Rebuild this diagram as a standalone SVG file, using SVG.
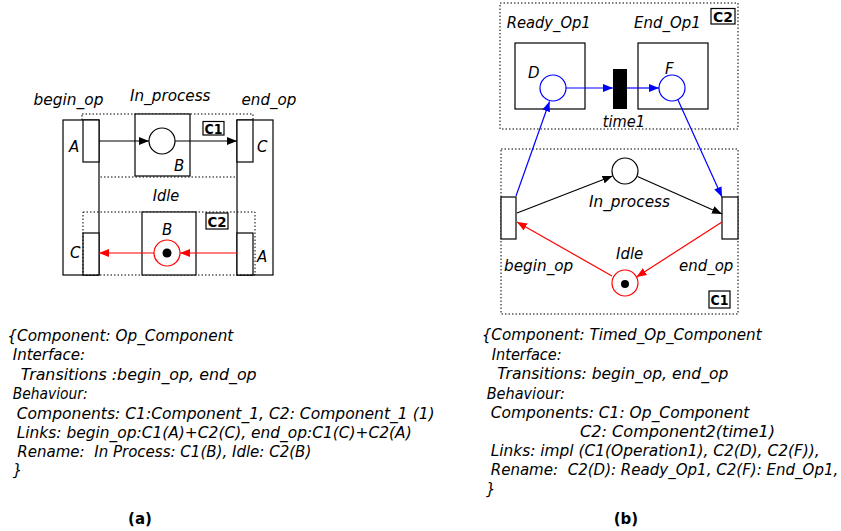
<svg xmlns="http://www.w3.org/2000/svg" width="841" height="531" viewBox="0 0 841 531">
<style>
.s{fill:#fff;stroke:#000;stroke-width:1.2}
.d{fill:none;stroke:#000;stroke-width:1;stroke-dasharray:1.5 2}
.t{font-family:"DejaVu Sans",Verdana,sans-serif;font-style:italic;font-size:15px;fill:#000}
.m{text-anchor:middle}
.b{font-family:"DejaVu Sans",Verdana,sans-serif;font-weight:bold;font-size:14px;fill:#000;text-anchor:middle}
.k{stroke:#000;stroke-width:1.2;fill:none}
.r{stroke:#f00;stroke-width:1.2;fill:none}
.u{stroke:#00f;stroke-width:1.2;fill:none}
.code{font-family:"DejaVu Sans",Verdana,sans-serif;font-style:italic;font-size:15px;fill:#000;white-space:pre}
</style>
<defs>
<marker id="ak" viewBox="0 0 10 8" refX="10" refY="4" markerWidth="10" markerHeight="8" markerUnits="userSpaceOnUse" orient="auto"><path d="M0,0L10,4L0,8z" fill="#000"/></marker>
<marker id="ar" viewBox="0 0 10 8" refX="10" refY="4" markerWidth="10" markerHeight="8" markerUnits="userSpaceOnUse" orient="auto"><path d="M0,0L10,4L0,8z" fill="#f00"/></marker>
<marker id="au" viewBox="0 0 10 8" refX="10" refY="4" markerWidth="10" markerHeight="8" markerUnits="userSpaceOnUse" orient="auto"><path d="M0,0L10,4L0,8z" fill="#00f"/></marker>
</defs>
<rect width="841" height="531" fill="#fff"/>

<!-- (a) -->
<g id="a-C1">
<rect class="d" x="82" y="114" width="171" height="63"/>
</g>
<g id="a-begin_op">
<rect class="s" x="63" y="120" width="36" height="155"/>
<rect class="s" x="83" y="120" width="16" height="42"/>
<rect class="s" x="83" y="233" width="16" height="42"/>
<text class="t" x="33.5" y="105" textLength="70" lengthAdjust="spacingAndGlyphs">begin_op</text>
<text class="t" x="69" y="152">A</text>
<text class="t" x="70" y="258">C</text>
</g>
<g id="a-end_op">
<rect class="s" x="237" y="120" width="36" height="155"/>
<rect class="s" x="237" y="120" width="16" height="42"/>
<rect class="s" x="237" y="233" width="16" height="42"/>
<text class="t" x="241.5" y="105" textLength="55" lengthAdjust="spacingAndGlyphs">end_op</text>
<text class="t" x="257" y="152">C</text>
<text class="t" x="257" y="262">A</text>
</g>
<g id="a-C2">
<rect class="d" x="83" y="212" width="172" height="63"/>
</g>
<g id="a-In_process">
<rect class="s" x="135" y="114" width="55" height="62"/>
<circle class="s" cx="162" cy="141" r="13"/>
<text class="t" x="174" y="171">B</text>
<text class="t" x="130" y="101" textLength="80.5" lengthAdjust="spacingAndGlyphs">In_process</text>
</g>
<g id="a-C1-label">
<rect class="s" x="203" y="121.5" width="21" height="13.5"/>
<text class="b" x="213.5" y="133.5" textLength="18" lengthAdjust="spacingAndGlyphs">C1</text>
</g>
<g id="a-Idle">
<rect class="s" x="142" y="212" width="54" height="63"/>
<circle cx="167" cy="253" r="13" fill="#fff" stroke="#f00" stroke-width="1.2"/>
<circle cx="167" cy="253" r="4.5" fill="#000"/>
<text class="t" x="162" y="235">B</text>
<text class="t" x="152.7" y="201" textLength="26.5" lengthAdjust="spacingAndGlyphs">Idle</text>
</g>
<g id="a-C2-label">
<rect class="s" x="206" y="213" width="22" height="16"/>
<text class="b" x="217" y="226.5" textLength="19" lengthAdjust="spacingAndGlyphs">C2</text>
</g>
<g id="a-connectors">
<line class="k" x1="99" y1="141" x2="149" y2="141" marker-end="url(#ak)"/>
<line class="k" x1="175" y1="141" x2="237" y2="141" marker-end="url(#ak)"/>
<line class="r" x1="154" y1="253" x2="99" y2="253" marker-end="url(#ar)"/>
<line class="r" x1="237" y1="253" x2="180" y2="253" marker-end="url(#ar)"/>
</g>

<!-- (b) -->
<g id="b-C2">
<rect class="d" x="500" y="3" width="238" height="126"/>
<rect class="s" x="711" y="8.5" width="24" height="15.5"/>
<text class="b" x="723" y="21.5" textLength="20" lengthAdjust="spacingAndGlyphs">C2</text>
</g>
<g id="b-Ready_Op1">
<rect class="s" x="515" y="43" width="70" height="66"/>
<circle cx="553" cy="88" r="13" fill="#fff" stroke="#00f" stroke-width="1.2"/>
<text class="t" x="528" y="78">D</text>
<text class="t" x="506.7" y="28" textLength="84" lengthAdjust="spacingAndGlyphs">Ready_Op1</text>
</g>
<g id="b-time1">
<rect x="613" y="69" width="14" height="40" fill="#000"/>
<text class="t" x="602.7" y="126.5" textLength="42.3" lengthAdjust="spacingAndGlyphs">time1</text>
</g>
<g id="b-End_Op1">
<rect class="s" x="638" y="43" width="70" height="66"/>
<circle cx="672" cy="88" r="13" fill="#fff" stroke="#00f" stroke-width="1.2"/>
<text class="t" x="665" y="74">F</text>
<text class="t" x="634" y="28" textLength="66.7" lengthAdjust="spacingAndGlyphs">End_Op1</text>
</g>
<g id="b-C1">
<rect class="d" x="501" y="149" width="237" height="165"/>
<rect class="s" x="709" y="291" width="21" height="17"/>
<text class="b" x="719.5" y="304.5" textLength="18" lengthAdjust="spacingAndGlyphs">C1</text>
</g>
<g id="b-begin_op">
<rect class="s" x="501" y="197" width="15" height="42"/>
<text class="t" x="504" y="271" textLength="69.3" lengthAdjust="spacingAndGlyphs">begin_op</text>
</g>
<g id="b-end_op">
<rect class="s" x="722" y="197" width="16" height="42"/>
<text class="t" x="679" y="271" textLength="54.3" lengthAdjust="spacingAndGlyphs">end_op</text>
</g>
<g id="b-In_process">
<circle class="s" cx="625" cy="171" r="13"/>
<text class="t" x="589" y="207" textLength="81" lengthAdjust="spacingAndGlyphs">In_process</text>
</g>
<g id="b-Idle">
<circle cx="625" cy="283" r="13" fill="#fff" stroke="#f00" stroke-width="1.2"/>
<circle cx="625" cy="284" r="4" fill="#000"/>
<text class="t" x="616" y="259" textLength="27.3" lengthAdjust="spacingAndGlyphs">Idle</text>
</g>
<g id="b-connectors">
<line class="u" x1="566" y1="88" x2="613" y2="88" marker-end="url(#au)"/>
<line class="u" x1="627" y1="88" x2="659" y2="88" marker-end="url(#au)"/>
<line class="u" x1="516" y1="196" x2="549.5" y2="101.5" marker-end="url(#au)"/>
<line class="u" x1="678" y1="100" x2="722" y2="197" marker-end="url(#au)"/>
<line class="k" x1="517" y1="213" x2="612.5" y2="176" marker-end="url(#ak)"/>
<line class="k" x1="637.5" y1="176.5" x2="722" y2="214" marker-end="url(#ak)"/>
<line class="r" x1="722" y1="222" x2="636.5" y2="277" marker-end="url(#ar)"/>
<line class="r" x1="612" y1="276" x2="517" y2="222" marker-end="url(#ar)"/>
</g>

<!-- text blocks -->
<g id="a-spec">
<text class="code" x="7.3" y="341" textLength="226" lengthAdjust="spacingAndGlyphs">{Component: Op_Component</text>
<text class="code" x="12.7" y="360" textLength="72.5" lengthAdjust="spacingAndGlyphs">Interface:</text>
<text class="code" x="20.7" y="379.5" textLength="236" lengthAdjust="spacingAndGlyphs">Transitions :begin_op, end_op</text>
<text class="code" x="12.7" y="399" textLength="75" lengthAdjust="spacingAndGlyphs">Behaviour:</text>
<text class="code" x="16.7" y="418.5" textLength="418" lengthAdjust="spacingAndGlyphs">Components: C1:Component_1, C2: Component_1 (1)</text>
<text class="code" x="16.7" y="437.5" textLength="395" lengthAdjust="spacingAndGlyphs">Links: begin_op:C1(A)+C2(C), end_op:C1(C)+C2(A)</text>
<text class="code" x="17.3" y="456.5" textLength="294" lengthAdjust="spacingAndGlyphs" xml:space="preserve">Rename:  In Process: C1(B), Idle: C2(B)</text>
<text class="code" x="12.7" y="475">}</text>
</g>
<g id="b-spec">
<text class="code" x="481.7" y="340" textLength="280" lengthAdjust="spacingAndGlyphs">{Component: Timed_Op_Component</text>
<text class="code" x="491.7" y="359.5" textLength="70" lengthAdjust="spacingAndGlyphs">Interface:</text>
<text class="code" x="497.3" y="379" textLength="231" lengthAdjust="spacingAndGlyphs">Transitions: begin_op, end_op</text>
<text class="code" x="486.7" y="398.5" textLength="78.3" lengthAdjust="spacingAndGlyphs">Behaviour:</text>
<text class="code" x="490.7" y="418" textLength="258.6" lengthAdjust="spacingAndGlyphs">Components: C1: Op_Component</text>
<text class="code" x="580" y="437" textLength="195" lengthAdjust="spacingAndGlyphs">C2: Component2(time1)</text>
<text class="code" x="490.7" y="456" textLength="329" lengthAdjust="spacingAndGlyphs">Links: impl (C1(Operation1), C2(D), C2(F)),</text>
<text class="code" x="490.7" y="475" textLength="347.6" lengthAdjust="spacingAndGlyphs" xml:space="preserve">Rename:  C2(D): Ready_Op1, C2(F): End_Op1,</text>
<text class="code" x="486" y="494">}</text>
</g>
<text class="b" x="140" y="524" style="font-size:15px">(a)</text>
<text class="b" x="626" y="524" style="font-size:15px">(b)</text>
</svg>
